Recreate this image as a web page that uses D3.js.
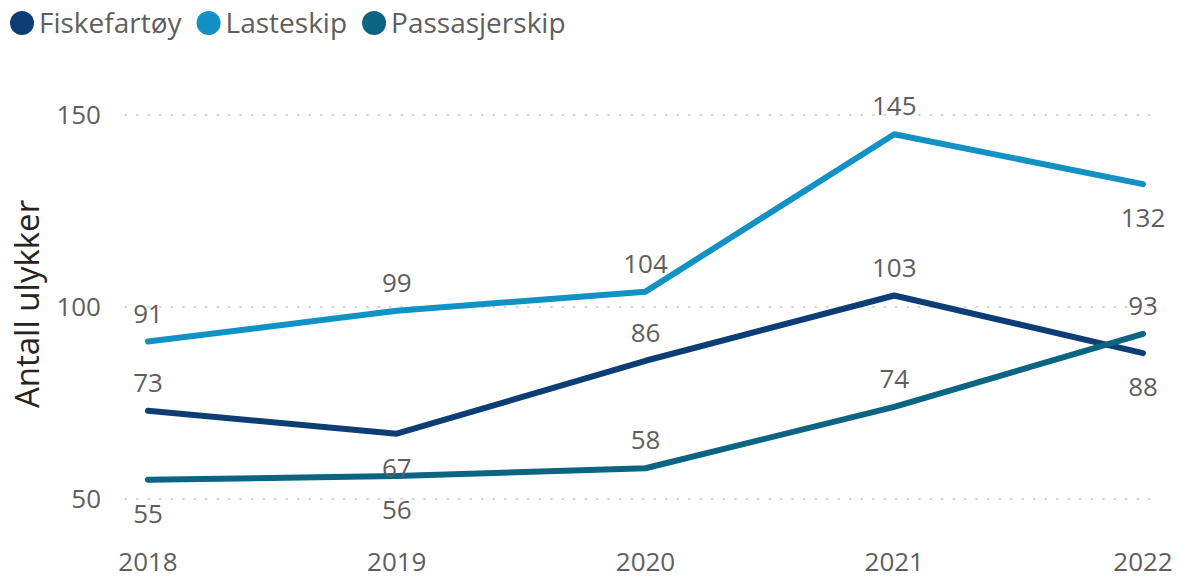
<!DOCTYPE html>
<html>
<head>
<meta charset="utf-8">
<script src="https://cdn.jsdelivr.net/npm/d3@7"></script>
<style>
  body { margin: 0; background: #fff; }
  svg { font-family: "Open Sans", "Segoe UI", sans-serif; }
</style>
</head>
<body>
<svg id="chart" width="1180" height="578"></svg>
<script>
const years = [2018, 2019, 2020, 2021, 2022];
const seriesNames = ['Fiskefartøy', 'Lasteskip', 'Passasjerskip'];
const fiskefartoy = [73, 67, 86, 103, 88];
const lasteskip = [91, 99, 104, 145, 132];
const passasjerskip = [55, 56, 58, 74, 93];
// label side per point: 1 above, -1 below
const fiskeSide = [1, -1, 1, 1, -1];
const lasteSide = [1, 1, 1, 1, -1];
const passSide = [-1, -1, 1, 1, 1];
const yTicks = [50, 100, 150];
const colors = ['#0c3d74', '#1191c4', '#0b6482'];

const series = [
  { name: seriesNames[0], values: fiskefartoy, side: fiskeSide, color: colors[0] },
  { name: seriesNames[1], values: lasteskip, side: lasteSide, color: colors[1] },
  { name: seriesNames[2], values: passasjerskip, side: passSide, color: colors[2] }
];

const svg = d3.select('#chart');

const x = d3.scalePoint()
  .domain(years)
  .range([148, 1143]);

const y = d3.scaleLinear()
  .domain([50, 150])
  .range([499, 115]);

// gridlines
svg.append('g')
  .selectAll('line')
  .data(yTicks)
  .enter()
  .append('line')
  .attr('x1', 125)
  .attr('x2', 1158)
  .attr('y1', d => y(d))
  .attr('y2', d => y(d))
  .attr('stroke', '#c8c8c8')
  .attr('stroke-width', 1.5)
  .attr('stroke-dasharray', '1.5,10')
  .attr('stroke-linecap', 'round');

// y ticks
svg.append('g')
  .selectAll('text')
  .data(yTicks)
  .enter()
  .append('text')
  .attr('x', 101)
  .attr('y', d => y(d))
  .attr('dy', '0.35em')
  .attr('text-anchor', 'end')
  .attr('fill', '#605e5c')
  .style('font-size', '26px')
  .text(d => d);

// x ticks
svg.append('g')
  .selectAll('text')
  .data(years)
  .enter()
  .append('text')
  .attr('x', d => x(d))
  .attr('y', 562)
  .attr('dy', '0.35em')
  .attr('text-anchor', 'middle')
  .attr('fill', '#605e5c')
  .style('font-size', '26px')
  .text(d => d);

// axis title
svg.append('text')
  .attr('transform', 'translate(27,304) rotate(-90)')
  .attr('dy', '0.35em')
  .attr('text-anchor', 'middle')
  .attr('fill', '#252423')
  .style('font-size', '33px')
  .text('Antall ulykker');

const line = d3.line()
  .x((d, i) => x(years[i]))
  .y(d => y(d));

svg.append('g')
  .selectAll('path')
  .data(series)
  .enter()
  .append('path')
  .attr('d', d => line(d.values))
  .attr('fill', 'none')
  .attr('stroke', d => d.color)
  .attr('stroke-width', 6)
  .attr('stroke-linecap', 'round')
  .attr('stroke-linejoin', 'round');

// data labels
series.forEach(s => {
  svg.append('g')
    .selectAll('text')
    .data(s.values)
    .enter()
    .append('text')
    .attr('x', (d, i) => x(years[i]))
    .attr('y', (d, i) => y(d) + (s.side[i] > 0 ? -28 : 34))
    .attr('dy', '0.35em')
    .attr('text-anchor', 'middle')
    .attr('fill', '#605e5c')
    .style('font-size', '26px')
    .text(d => d);
});

// legend
const legend = svg.append('g');
let lx = 10;
series.forEach(s => {
  legend.append('circle')
    .attr('cx', lx + 12)
    .attr('cy', 23)
    .attr('r', 12)
    .attr('fill', s.color);
  const t = legend.append('text')
    .attr('x', lx + 29)
    .attr('y', 23)
    .attr('dy', '0.35em')
    .attr('fill', '#605e5c')
    .style('font-size', '28px')
    .text(s.name);
  lx += 29 + t.node().getComputedTextLength() + 15;
});
</script>
</body>
</html>
